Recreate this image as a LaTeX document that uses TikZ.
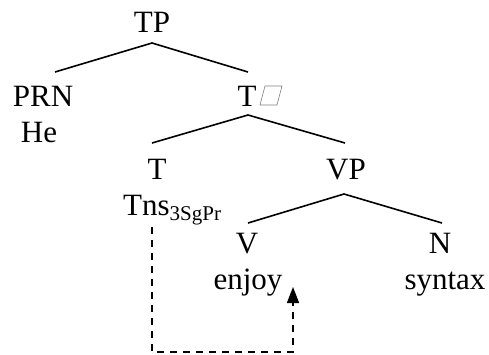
\documentclass[tikz,border=0pt]{standalone}
\usepackage{fontspec}
\setmainfont{Liberation Serif}
\usetikzlibrary{arrows.meta,calc}

\begin{document}
\begin{tikzpicture}[x=1pt,y=-1pt,
  lbl/.style={inner sep=0pt,anchor=base,font=\fontsize{31}{36}\selectfont},
  branch/.style={line width=1.6pt},
  movement/.style={line width=1.6pt,dash pattern=on 7pt off 6pt},
  glyphbox/.style={draw=gray,line width=0.6pt}]
\useasboundingbox (0,0) rectangle (489,354);

% category labels and words
\node[lbl] (TP)   at (152,32)  {TP};
\node[lbl] (PRN)  at (43,106)  {PRN};
\node[lbl] (He)   at (39,142)  {He};
\node[lbl] (Tbar) at (247,106) {T};
\node[lbl] (T)    at (157,179) {T};
\node[lbl] (VP)   at (346,179) {VP};
\node[lbl,anchor=base west] (Tns) at (123,215)
  {Tns\raisebox{-5pt}{\fontsize{21}{24}\selectfont 3SgPr}};
\node[lbl] (V)     at (247,253) {V};
\node[lbl] (N)     at (440,253) {N};
\node[lbl] (enjoy) at (248,289) {enjoy};
\node[lbl] (syn)   at (445,289) {syntax};

% placeholder box printed after the bar-level T
\draw[glyphbox] (265,86) -- (282,86) -- (277,105) -- (260,105) -- cycle;

% branch attachment points
\coordinate (tpTop)   at (152,43);
\coordinate (prnTop)  at (55,72);
\coordinate (tbarIn)  at (248,72);
\coordinate (tbarTop) at (248,115);
\coordinate (tIn)     at (152,143);
\coordinate (vpIn)    at (345,143);
\coordinate (vpTop)   at (344,194);
\coordinate (vIn)     at (248,223);
\coordinate (nIn)     at (442,223);

\draw[branch] (prnTop) -- (tpTop) -- (tbarIn);
\draw[branch] (tIn) -- (tbarTop) -- (vpIn);
\draw[branch] (vIn) -- (vpTop) -- (nIn);

% affix lowering from T onto the verb
\coordinate (from)  at (152,227);
\coordinate (to)    at (293,287);
\coordinate (floor) at (0,352);
\draw[movement,-{Triangle[length=16pt,width=12pt]}]
  (from) -- (from |- floor) -- (to |- floor) -- (to);
\end{tikzpicture}
\end{document}
